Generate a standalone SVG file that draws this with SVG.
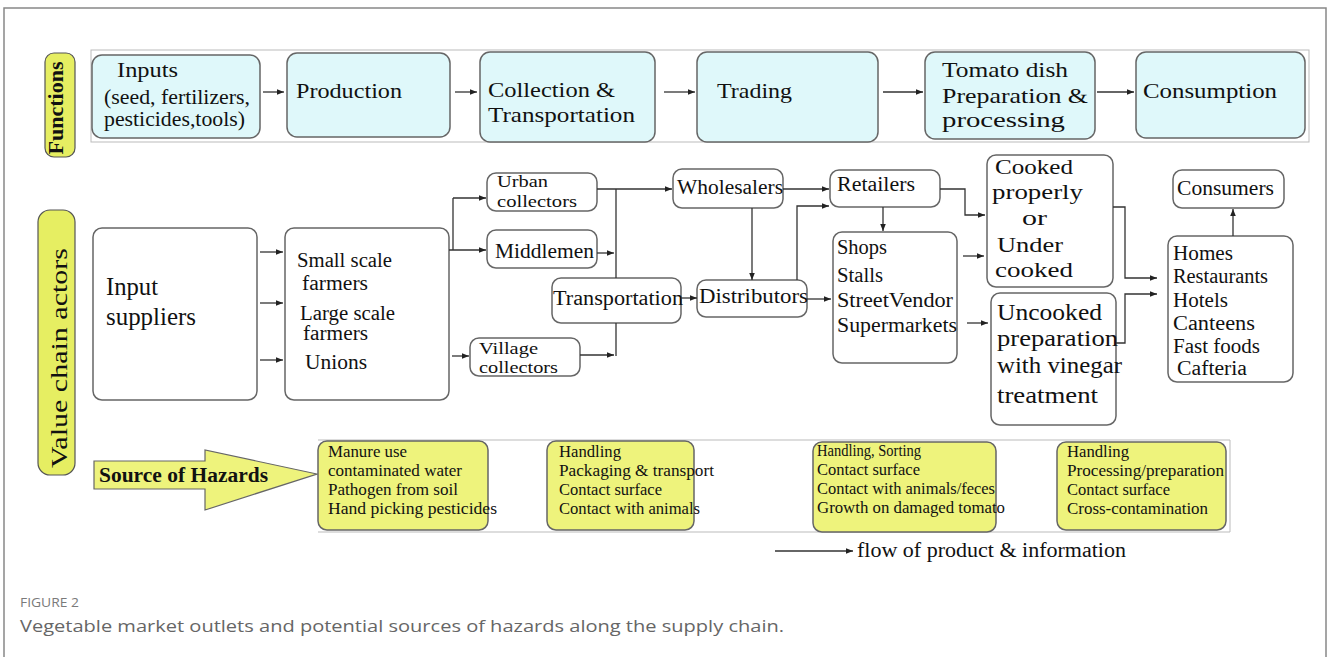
<svg xmlns="http://www.w3.org/2000/svg" width="1328" height="657" viewBox="0 0 1328 657">
<style>
.t{font-family:"Liberation Serif","Times New Roman",serif;fill:#111}
.f21{font-size:21px}.f20{font-size:20px}.f19{font-size:19px}.f17{font-size:17px}.f25{font-size:25px}.f23{font-size:23px}.f22{font-size:22px}.f16{font-size:16px}
.fn{fill:#dff8fa;stroke:#666;stroke-width:1.5}
.bx{fill:#fff;stroke:#666;stroke-width:1.5}
.hz{fill:#eef37c;stroke:#666;stroke-width:1.5}
.pill{fill:#e6ee62;stroke:#555;stroke-width:1.2}
.frame{fill:none;stroke:#bbb;stroke-width:1}
.c{fill:none;stroke:#333;stroke-width:1.3}
.ca{fill:none;stroke:#333;stroke-width:1.3;marker-end:url(#ah)}
.cap{font-family:"Open Sans","Liberation Sans",sans-serif}
</style>
<defs>
<marker id="ah" viewBox="0 0 10 10" refX="10" refY="5" markerWidth="8" markerHeight="7" markerUnits="userSpaceOnUse" orient="auto"><path d="M0,1 L10,5 L0,9 z" fill="#222"/></marker>
</defs>
<rect width="1328" height="657" fill="#fff"/>
<path d="M4,657 V8 H1326 V657" fill="none" stroke="#888" stroke-width="1.5"/>

<!-- side labels -->
<g id="lbl-functions">
<rect class="pill" x="45" y="53" width="30" height="104" rx="9"/>
<text class="t" font-weight="bold" font-size="20" text-anchor="middle" transform="translate(63,108) rotate(-90)" textLength="93" lengthAdjust="spacingAndGlyphs">Functions</text>
</g>
<g id="lbl-actors">
<rect class="pill" x="38" y="210" width="37" height="265" rx="12"/>
<text class="t" font-size="23" text-anchor="middle" transform="translate(67,358) rotate(-90)" textLength="220" lengthAdjust="spacingAndGlyphs">Value chain actors</text>
</g>

<!-- frames -->
<rect class="frame" x="91" y="50" width="1218" height="92"/>
<path class="frame" d="M318,440 H1230 V532 H318"/>

<!-- Functions row -->
<g id="fn-inputs"><rect class="fn" x="92" y="55" width="168" height="83" rx="10"/>
<text class="t f21" x="117" y="77" textLength="61" lengthAdjust="spacingAndGlyphs">Inputs</text>
<text class="t f21" x="104" y="104" textLength="146" lengthAdjust="spacingAndGlyphs">(seed, fertilizers,</text>
<text class="t f21" x="104" y="126" textLength="141" lengthAdjust="spacingAndGlyphs">pesticides,tools)</text></g>
<g id="fn-production"><rect class="fn" x="287" y="53" width="163" height="84" rx="10"/>
<text class="t f21" x="296" y="98" textLength="106" lengthAdjust="spacingAndGlyphs">Production</text></g>
<g id="fn-collection"><rect class="fn" x="480" y="52" width="175" height="90" rx="10"/>
<text class="t f21" x="488" y="97" textLength="127" lengthAdjust="spacingAndGlyphs">Collection &amp;</text>
<text class="t f21" x="488" y="122" textLength="147" lengthAdjust="spacingAndGlyphs">Transportation</text></g>
<g id="fn-trading"><rect class="fn" x="697" y="52" width="181" height="90" rx="10"/>
<text class="t f21" x="717" y="98" textLength="75" lengthAdjust="spacingAndGlyphs">Trading</text></g>
<g id="fn-tomato"><rect class="fn" x="925" y="52" width="170" height="87" rx="10"/>
<text class="t f21" x="942" y="77" textLength="126" lengthAdjust="spacingAndGlyphs">Tomato dish</text>
<text class="t f21" x="942" y="103" textLength="146" lengthAdjust="spacingAndGlyphs">Preparation &amp;</text>
<text class="t f21" x="942" y="127" textLength="123" lengthAdjust="spacingAndGlyphs">processing</text></g>
<g id="fn-consumption"><rect class="fn" x="1136" y="52" width="169" height="86" rx="10"/>
<text class="t f21" x="1143" y="98" textLength="134" lengthAdjust="spacingAndGlyphs">Consumption</text></g>

<!-- Value chain actors -->
<g id="n-input"><rect class="bx" x="93" y="228" width="164" height="172" rx="9"/>
<text class="t f25" x="106" y="295" textLength="52" lengthAdjust="spacingAndGlyphs">Input</text>
<text class="t f25" x="106" y="325" textLength="90" lengthAdjust="spacingAndGlyphs">suppliers</text></g>
<g id="n-farmers"><rect class="bx" x="285" y="228" width="164" height="172" rx="9"/>
<text class="t f20" x="297" y="267" textLength="95" lengthAdjust="spacingAndGlyphs">Small scale</text>
<text class="t f20" x="302" y="290" textLength="66" lengthAdjust="spacingAndGlyphs">farmers</text>
<text class="t f20" x="300" y="320" textLength="95" lengthAdjust="spacingAndGlyphs">Large scale</text>
<text class="t f20" x="303" y="340" textLength="65" lengthAdjust="spacingAndGlyphs">farmers</text>
<text class="t f20" x="305" y="369" textLength="62" lengthAdjust="spacingAndGlyphs">Unions</text></g>
<g id="n-urban"><rect class="bx" x="487" y="173" width="110" height="38" rx="9"/>
<text class="t f17" x="497" y="187" textLength="51" lengthAdjust="spacingAndGlyphs">Urban</text>
<text class="t f17" x="497" y="207" textLength="80" lengthAdjust="spacingAndGlyphs">collectors</text></g>
<g id="n-middlemen"><rect class="bx" x="487" y="230" width="110" height="38" rx="9"/>
<text class="t f20" x="495" y="258" textLength="99" lengthAdjust="spacingAndGlyphs">Middlemen</text></g>
<g id="n-village"><rect class="bx" x="470" y="338" width="110" height="38" rx="9"/>
<text class="t f17" x="479" y="354" textLength="59" lengthAdjust="spacingAndGlyphs">Village</text>
<text class="t f17" x="479" y="373" textLength="79" lengthAdjust="spacingAndGlyphs">collectors</text></g>
<g id="n-transport"><rect class="bx" x="552" y="278" width="129" height="45" rx="9"/>
<text class="t f20" x="553" y="305" textLength="130" lengthAdjust="spacingAndGlyphs">Transportation</text></g>
<g id="n-wholesalers"><rect class="bx" x="673" y="169" width="110" height="39" rx="9"/>
<text class="t f20" x="677" y="194" textLength="106" lengthAdjust="spacingAndGlyphs">Wholesalers</text></g>
<g id="n-distributors"><rect class="bx" x="697" y="280" width="110" height="37" rx="9"/>
<text class="t f20" x="699" y="303" textLength="109" lengthAdjust="spacingAndGlyphs">Distributors</text></g>
<g id="n-retailers"><rect class="bx" x="830" y="170" width="110" height="37" rx="9"/>
<text class="t f20" x="837" y="191" textLength="78" lengthAdjust="spacingAndGlyphs">Retailers</text></g>
<g id="n-shops"><rect class="bx" x="833" y="232" width="124" height="131" rx="9"/>
<text class="t f20" x="837" y="254" textLength="50" lengthAdjust="spacingAndGlyphs">Shops</text>
<text class="t f20" x="837" y="282" textLength="46" lengthAdjust="spacingAndGlyphs">Stalls</text>
<text class="t f20" x="837" y="307" textLength="116" lengthAdjust="spacingAndGlyphs">StreetVendor</text>
<text class="t f20" x="837" y="332" textLength="120" lengthAdjust="spacingAndGlyphs">Supermarkets</text></g>
<g id="n-cooked"><rect class="bx" x="987" y="155" width="126" height="132" rx="9"/>
<text class="t f22" x="995" y="174" textLength="78" lengthAdjust="spacingAndGlyphs">Cooked</text>
<text class="t f22" x="992" y="199" textLength="91" lengthAdjust="spacingAndGlyphs">properly</text>
<text class="t f22" x="1022" y="225" textLength="25" lengthAdjust="spacingAndGlyphs">or</text>
<text class="t f22" x="997" y="252" textLength="66" lengthAdjust="spacingAndGlyphs">Under</text>
<text class="t f22" x="995" y="277" textLength="78" lengthAdjust="spacingAndGlyphs">cooked</text></g>
<g id="n-uncooked"><rect class="bx" x="991" y="293" width="125" height="132" rx="9"/>
<text class="t f23" x="997" y="320" textLength="105" lengthAdjust="spacingAndGlyphs">Uncooked</text>
<text class="t f23" x="997" y="346" textLength="121" lengthAdjust="spacingAndGlyphs">preparation</text>
<text class="t f23" x="997" y="373" textLength="125" lengthAdjust="spacingAndGlyphs">with vinegar</text>
<text class="t f23" x="997" y="403" textLength="101" lengthAdjust="spacingAndGlyphs">treatment</text></g>
<g id="n-homes"><rect class="bx" x="1168" y="236" width="125" height="146" rx="9"/>
<text class="t f20" x="1173" y="260" textLength="60" lengthAdjust="spacingAndGlyphs">Homes</text>
<text class="t f20" x="1173" y="283" textLength="95" lengthAdjust="spacingAndGlyphs">Restaurants</text>
<text class="t f20" x="1173" y="307" textLength="55" lengthAdjust="spacingAndGlyphs">Hotels</text>
<text class="t f20" x="1173" y="330" textLength="82" lengthAdjust="spacingAndGlyphs">Canteens</text>
<text class="t f20" x="1173" y="353" textLength="87" lengthAdjust="spacingAndGlyphs">Fast foods</text>
<text class="t f20" x="1177" y="375" textLength="70" lengthAdjust="spacingAndGlyphs">Cafteria</text></g>
<g id="n-consumers"><rect class="bx" x="1173" y="170" width="111" height="38" rx="9"/>
<text class="t f20" x="1177" y="195" textLength="97" lengthAdjust="spacingAndGlyphs">Consumers</text></g>

<!-- Hazards -->
<g id="hz-arrow">
<path d="M94,461 H205 V450 L317,474 L205,510 V489 H94 Z" fill="#eef37c" stroke="#666" stroke-width="1.2"/>
<text class="t" font-weight="bold" font-size="20" x="99" y="482" textLength="169" lengthAdjust="spacingAndGlyphs">Source of Hazards</text>
</g>
<g id="hz-1"><rect class="hz" x="318" y="441" width="170" height="89" rx="9"/>
<text class="t f16" x="328" y="457" textLength="79" lengthAdjust="spacingAndGlyphs">Manure use</text>
<text class="t f16" x="328" y="476" textLength="134" lengthAdjust="spacingAndGlyphs">contaminated water</text>
<text class="t f16" x="328" y="495" textLength="130" lengthAdjust="spacingAndGlyphs">Pathogen from soil</text>
<text class="t f16" x="328" y="514" textLength="169" lengthAdjust="spacingAndGlyphs">Hand picking pesticides</text></g>
<g id="hz-2"><rect class="hz" x="547" y="441" width="147" height="89" rx="9"/>
<text class="t f16" x="559" y="457" textLength="62" lengthAdjust="spacingAndGlyphs">Handling</text>
<text class="t f16" x="559" y="476" textLength="155" lengthAdjust="spacingAndGlyphs">Packaging &amp; transport</text>
<text class="t f16" x="559" y="495" textLength="103" lengthAdjust="spacingAndGlyphs">Contact surface</text>
<text class="t f16" x="559" y="514" textLength="141" lengthAdjust="spacingAndGlyphs">Contact with animals</text></g>
<g id="hz-3"><rect class="hz" x="813" y="442" width="183" height="90" rx="9"/>
<text class="t f16" x="817" y="456" textLength="104" lengthAdjust="spacingAndGlyphs">Handling, Sorting</text>
<text class="t f16" x="817" y="475" textLength="103" lengthAdjust="spacingAndGlyphs">Contact surface</text>
<text class="t f16" x="817" y="494" textLength="178" lengthAdjust="spacingAndGlyphs">Contact with animals/feces</text>
<text class="t f16" x="817" y="513" textLength="188" lengthAdjust="spacingAndGlyphs">Growth on damaged tomato</text></g>
<g id="hz-4"><rect class="hz" x="1057" y="442" width="169" height="88" rx="9"/>
<text class="t f16" x="1067" y="457" textLength="62" lengthAdjust="spacingAndGlyphs">Handling</text>
<text class="t f16" x="1067" y="476" textLength="157" lengthAdjust="spacingAndGlyphs">Processing/preparation</text>
<text class="t f16" x="1067" y="495" textLength="103" lengthAdjust="spacingAndGlyphs">Contact surface</text>
<text class="t f16" x="1067" y="514" textLength="141" lengthAdjust="spacingAndGlyphs">Cross-contamination</text></g>

<!-- connectors -->
<g id="connectors">
<path class="ca" d="M263,92 H284"/>
<path class="ca" d="M455,92 H477"/>
<path class="ca" d="M664,92 H695"/>
<path class="ca" d="M883,92 H923"/>
<path class="ca" d="M1097,92 H1134"/>
<path class="ca" d="M260,252 H283"/>
<path class="ca" d="M260,303 H283"/>
<path class="ca" d="M260,360 H283"/>
<path class="c" d="M453,198 V250"/>
<path class="ca" d="M453,198 H486"/>
<path class="ca" d="M449,250 H486"/>
<path class="ca" d="M452,356 H469"/>
<path class="ca" d="M597,189 H672"/>
<path class="c" d="M616,189 V278"/>
<path class="c" d="M616,323 V356"/>
<path class="ca" d="M597,253 H614"/>
<path class="ca" d="M580,355 H614"/>
<path class="ca" d="M681,298 H697"/>
<path class="ca" d="M752,208 V280"/>
<path class="ca" d="M783,189 H829"/>
<path class="ca" d="M797,280 V206 H829"/>
<path class="ca" d="M807,299 H831"/>
<path class="ca" d="M883,207 V231"/>
<path class="ca" d="M940,189 H965 V215 H985"/>
<path class="ca" d="M963,256 H984"/>
<path class="ca" d="M967,323 H988"/>
<path class="ca" d="M1113,207 H1125 V278 H1157"/>
<path class="ca" d="M1116,343 H1125 V294 H1157"/>
<path class="ca" d="M1233,236 V209"/>
<path class="ca" d="M775,551 H853"/>
</g>
<text class="t f20" x="857" y="557" textLength="269" lengthAdjust="spacingAndGlyphs">flow of product &amp; information</text>

<!-- caption -->
<text class="cap" x="20" y="607" font-size="13" fill="#7a7a7a" textLength="59" lengthAdjust="spacingAndGlyphs">FIGURE 2</text>
<text class="cap" x="20" y="632" font-size="17" fill="#666" textLength="764" lengthAdjust="spacingAndGlyphs">Vegetable market outlets and potential sources of hazards along the supply chain.</text>
</svg>
